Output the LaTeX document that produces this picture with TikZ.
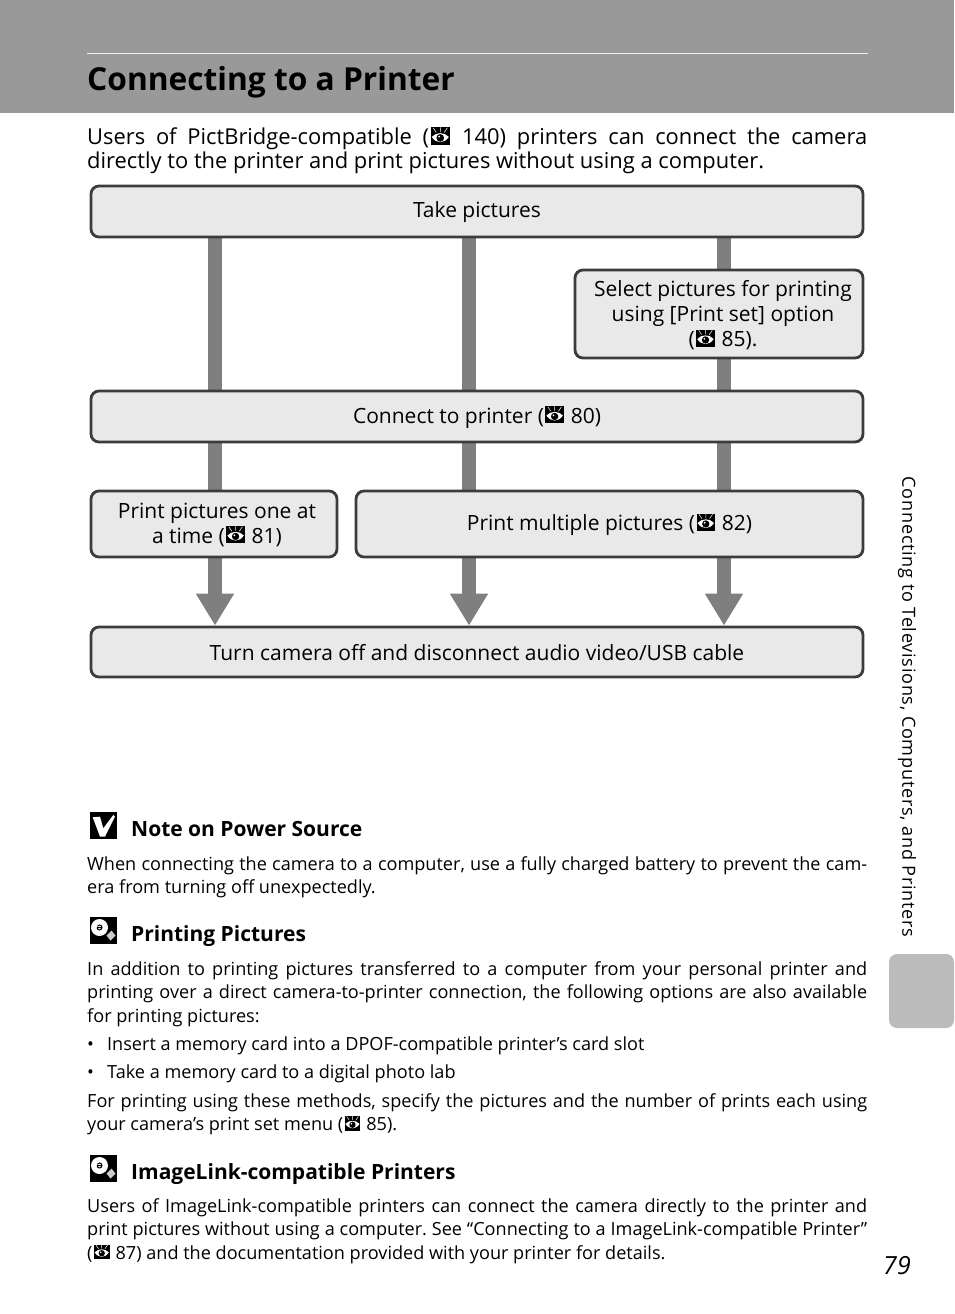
\documentclass[tikz,border=0pt]{standalone}
\usepackage{fontspec}
\setmainfont{Open Sans}
\usetikzlibrary{arrows.meta,backgrounds}
\definecolor{headgray}{HTML}{999999}
\definecolor{tabgray}{HTML}{BBBBBB}
\definecolor{boxfill}{HTML}{E9E9E9}
\definecolor{boxline}{HTML}{3C3C3C}
\definecolor{trunk}{HTML}{7F7F7F}
\newcommand{\refeye}{\kern.07em\smash{\tikz[x=.046em,y=.046em,baseline=-.39em,sharp corners]{%
	\fill[black] (-9.5,-8.5) rectangle (9.5,9);
	\fill[white] (-8.5,-0.5) .. controls (-4,4.5) and (4,4.5) .. (8.5,-0.5) .. controls (4,-7.5) and (-4,-7.5) .. (-8.5,-0.5) -- cycle;
	\fill[black] (0,-1.5) circle (3.8);
	\fill[white] (-1.2,-0.3) circle (1);
	\draw[white,line width=.5pt] (-7,8.5) -- (-4,4) (0,9) -- (0,4.5) (7,8.5) -- (4,4);
}}\kern.07em}
\newcommand{\shifted}[3][1.7pt]{\raisebox{-#1}[\height][\depth]{\kern#2\begin{tabular}{@{}c@{}}#3\end{tabular}}}
\tikzset{
	step box/.style={draw=boxline, fill=boxfill, line width=2.8pt, rounded corners=8pt, inner sep=0pt},
	flow text/.style={font=\fontsize{21}{25}\selectfont, align=center},
	trunk line/.style={draw=trunk, line width=14pt},
	para/.style={anchor=north west, inner sep=0pt, text width=780pt, align=justify, font=\fontsize{18.1}{23.5}\selectfont},
	note head/.style={anchor=base west, inner sep=0pt, font=\fontsize{21}{26}\selectfont\bfseries},
	note icon/.style={fill=black, minimum width=27pt, minimum height=27pt, inner sep=0pt},
	bulb/.pic={
		\fill[white] (-4,-3) circle (8.5);
		\draw[black,line width=1pt] (-6.5,-3) arc[start angle=180,end angle=-150,radius=2.5] (-6.5,-3) -- (-2,-3);
		\fill[white!80!black] (3,5) -- (8,0) -- (12,5) -- (7,10) -- cycle;
	}
}
\frenchspacing
\begin{document}
\begin{tikzpicture}[x=1pt,y=-1pt]
	\useasboundingbox (0,0) rectangle (954,1314);

	% Header band
	\fill[headgray] (0,0) rectangle (954,113);
	\draw[white!85!headgray,line width=0.8pt] (87,53) -- (868,53);
	\node[anchor=base west,inner sep=0pt,font=\fontsize{31.7}{36}\selectfont\bfseries] (title) at (87,90) {Connecting to a Printer};

	% Intro
	\node[para,font=\fontsize{21.9}{23.3}\selectfont] (intro) at (87,128) {Users of PictBridge-compatible (\refeye{} 140) printers can connect the camera\linebreak directly to the printer and print pictures without using a computer.};

	% Flow boxes
	\node[step box,flow text,minimum width=772pt,minimum height=51pt] (take) at (477,211.5) {\shifted[.7pt]{0pt}{Take pictures}};
	\node[step box,flow text,minimum width=288pt,minimum height=88pt] (select) at (719,314) {\shifted[2.7pt]{8pt}{Select pictures for printing\\using [Print set] option\\(\refeye{} 85).}};
	\node[step box,flow text,minimum width=772pt,minimum height=51pt] (connect) at (477,416.5) {\shifted{0pt}{Connect to printer (\refeye{} 80)}};
	\node[step box,flow text,minimum width=246pt,minimum height=66pt] (one) at (214,524) {\shifted{6pt}{Print pictures one at\\a time (\refeye{} 81)}};
	\node[step box,flow text,minimum width=507pt,minimum height=66pt] (multi) at (609.5,524) {\shifted{0pt}{Print multiple pictures (\refeye{} 82)}};
	\node[step box,flow text,minimum width=772pt,minimum height=50pt] (off) at (477,652) {\shifted[3.7pt]{0pt}{Turn camera off and disconnect audio video/USB cable}};

	% Columns
	\coordinate (col1) at (215,0);
	\coordinate (col2) at (469,0);
	\coordinate (col3) at (724,0);

	\begin{scope}[on background layer]
		\foreach \a/\b/\c in {take/connect/col1, take/connect/col2, take/select/col3, select/connect/col3, connect/one/col1, connect/multi/col2, connect/multi/col3}{
			\draw[trunk line] (\a.south -| \c) -- (\b.north -| \c);
		}
		\foreach \a/\c in {one/col1, multi/col2, multi/col3}{
			\draw[trunk line,-{Triangle[length=32pt,width=36pt]}] (\a.south -| \c) -- (off.north -| \c);
		}
	\end{scope}

	% Notes
	\node[note icon] (checkicon) at (103.5,825.5) {};
	\fill[white] (92.7,817.3) -- (100,816.7) -- (103.3,828.3) -- (113.3,815) -- (115,816.7) -- (105,836.7) -- (100,836.7) -- cycle;
	\node[note head] (powerhead) at (131,836) {Note on Power Source};
	\node[para] (powertext) at (87,856) {When connecting the camera to a computer, use a fully charged battery to prevent the cam-\linebreak era from turning off unexpectedly.};

	\node[note icon] (bulbone) at (103.5,930.5) {};
	\pic at (103.5,930.5) {bulb};
	\node[note head] (printhead) at (131,941) {Printing Pictures};
	\node[para] (printtext) at (87,961) {In addition to printing pictures transferred to a computer from your personal printer and\linebreak printing over a direct camera-to-printer connection, the following options are also available\linebreak for printing pictures:};
	\node[para,anchor=base west] (bulletone) at (87,1050) {\makebox[20pt][l]{\textbullet}Insert a memory card into a DPOF-compatible printer’s card slot};
	\node[para,anchor=base west] (bullettwo) at (87,1078) {\makebox[20pt][l]{\textbullet}Take a memory card to a digital photo lab};
	\node[para] (methodtext) at (87,1093) {For printing using these methods, specify the pictures and the number of prints each using\linebreak your camera’s print set menu (\refeye{} 85).};

	\node[note icon] (bulbtwo) at (103.5,1168.5) {};
	\pic at (103.5,1168.5) {bulb};
	\node[note head] (linkhead) at (131,1179) {ImageLink-compatible Printers};
	\node[para] (linktext) at (87,1198) {Users of ImageLink-compatible printers can connect the camera directly to the printer and\linebreak print pictures without using a computer. See “Connecting to a ImageLink-compatible Printer”\linebreak (\refeye{} 87) and the documentation provided with your printer for details.};

	% Side tab
	\fill[tabgray,rounded corners=8pt] (954,954) -- (889,954) -- (889,1028) -- (954,1028) -- cycle;
	\node[rotate=-90,inner sep=0pt,font=\fontsize{18.1}{22}\selectfont\addfontfeature{LetterSpace=4}] (sidetext) at (907,707) {Connecting to Televisions, Computers, and Printers};
	\node[anchor=base,inner sep=0pt,font=\fontsize{25}{30}\selectfont\itshape] (pagenum) at (897,1274) {79};
\end{tikzpicture}
\end{document}
